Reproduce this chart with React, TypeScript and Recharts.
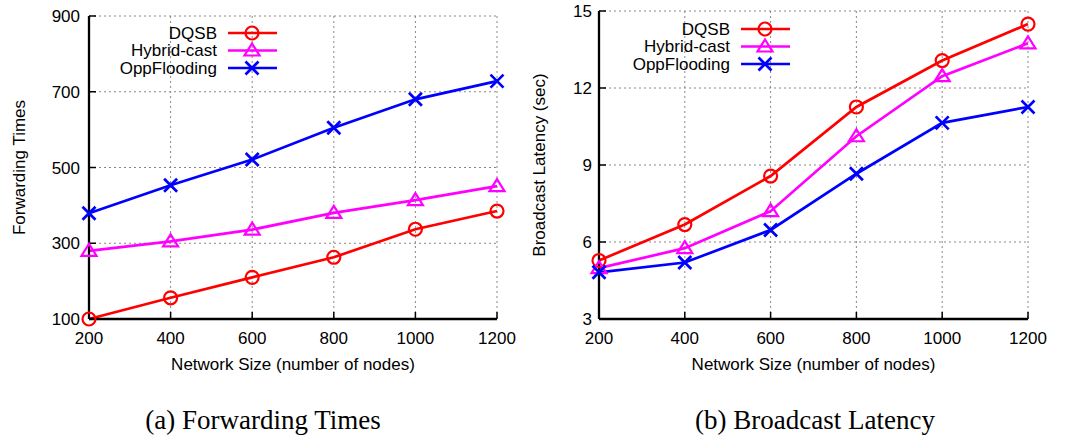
import React from "react";
import { LineChart, Line, XAxis, YAxis, CartesianGrid } from "recharts";

// network sizes on the x axis
const nodes = [200, 400, 600, 800, 1000, 1200];
const seriesNames = ["DQSB", "Hybrid-cast", "OppFlooding"];
const seriesColors = ["#ff0000", "#ff00ff", "#0000ff"];

// (a) forwarding times
const fwdDQSB = [100, 156, 210, 263, 337, 385];
const fwdHybrid = [280, 305, 336, 380, 414, 451];
const fwdOpp = [379, 453, 521, 605, 680, 728];

// (b) broadcast latency (sec)
const latDQSB = [5.28, 6.68, 8.57, 11.26, 13.07, 14.49];
const latHybrid = [4.98, 5.76, 7.2, 10.12, 12.46, 13.74];
const latOpp = [4.82, 5.2, 6.47, 8.66, 10.64, 11.26];

const xTicks = [200, 400, 600, 800, 1000, 1200];
const fwdTicks = [100, 300, 500, 700, 900];
const latTicks = [3, 6, 9, 12, 15];

const FONT = "'Liberation Sans', Arial, Helvetica, sans-serif";
const SERIF = "'Liberation Serif', 'Times New Roman', serif";

const fwdData = nodes.map((n, i) => ({ n, s0: fwdDQSB[i], s1: fwdHybrid[i], s2: fwdOpp[i] }));
const latData = nodes.map((n, i) => ({ n, s0: latDQSB[i], s1: latHybrid[i], s2: latOpp[i] }));

function Marker({ kind, cx, cy, color }: { kind: number; cx: number; cy: number; color: string }) {
  if (kind === 0) {
    return <circle cx={cx} cy={cy} r={6.5} fill="none" stroke={color} strokeWidth={2.2} />;
  }
  if (kind === 1) {
    return (
      <path
        d={`M${cx},${cy - 7} L${cx + 7.5},${cy + 5} L${cx - 7.5},${cy + 5} Z`}
        fill="none"
        stroke={color}
        strokeWidth={2.2}
      />
    );
  }
  return (
    <path
      d={`M${cx - 6.5},${cy - 6.5} L${cx + 6.5},${cy + 6.5} M${cx + 6.5},${cy - 6.5} L${cx - 6.5},${cy + 6.5}`}
      stroke={color}
      strokeWidth={2.7}
    />
  );
}

function LegendBox({ textRight, rowTop }: { textRight: number; rowTop: number }) {
  return (
    <svg
      width={400}
      height={100}
      style={{ position: "absolute", left: 0, top: 0, pointerEvents: "none" }}
    >
      {seriesNames.map((name, i) => {
        const y = rowTop + i * 17.5;
        return (
          <g key={name}>
            <text
              x={textRight}
              y={y}
              textAnchor="end"
              dominantBaseline="central"
              fontFamily={FONT}
              fontSize={17}
              fill="#000"
            >
              {name}
            </text>
            <line x1={textRight + 11} x2={textRight + 60} y1={y} y2={y} stroke={seriesColors[i]} strokeWidth={2.7} />
            <Marker kind={i} cx={textRight + 35} cy={y} color={seriesColors[i]} />
          </g>
        );
      })}
    </svg>
  );
}

type PanelProps = {
  data: any[];
  left: number;
  width: number;
  top: number;
  axisW: number;
  right: number;
  yDomain: [number, number];
  yTicks: number[];
  yLabel: string;
  yLabelOffset: number;
  yTickGap: number;
  legendRight: number;
  legendTop: number;
};

function Panel(p: PanelProps) {
  const H = 390;
  const tick = { fill: "#000", fontSize: 17, fontFamily: FONT };
  return (
    <div style={{ position: "absolute", left: p.left, top: 0, width: p.width, height: H }}>
      <LineChart
        width={p.width}
        height={H}
        data={p.data}
        margin={{ top: p.top, right: p.right, left: 0, bottom: 0 }}
      >
        <CartesianGrid xAxisId="b" yAxisId="l" stroke="#888" strokeDasharray="2 3" strokeWidth={1} />
        <XAxis
          xAxisId="b"
          dataKey="n"
          type="number"
          domain={[200, 1200]}
          ticks={xTicks}
          height={71}
          tick={tick}
          tickSize={-7}
          tickMargin={20}
          axisLine={{ stroke: "#000", strokeWidth: 2.3 }}
          tickLine={{ stroke: "#000", strokeWidth: 1.5 }}
          label={{
            value: "Network Size (number of nodes)",
            position: "insideBottom",
            offset: 20,
            fill: "#000",
            fontSize: 17,
            fontFamily: FONT,
          }}
        />
        <XAxis
          xAxisId="t"
          dataKey="n"
          type="number"
          orientation="top"
          domain={[200, 1200]}
          ticks={xTicks}
          height={0}
          tick={false}
          tickSize={-7}
          axisLine={{ stroke: "#000", strokeWidth: 2.3 }}
          tickLine={{ stroke: "#000", strokeWidth: 1.5 }}
        />
        <YAxis
          yAxisId="l"
          type="number"
          domain={p.yDomain}
          ticks={p.yTicks}
          width={p.axisW}
          tick={tick}
          tickSize={-7}
          tickMargin={p.yTickGap + 7}
          axisLine={{ stroke: "#000", strokeWidth: 2.3 }}
          tickLine={{ stroke: "#000", strokeWidth: 1.5 }}
          label={{
            value: p.yLabel,
            angle: -90,
            position: "insideLeft",
            offset: p.yLabelOffset,
            fill: "#000",
            fontSize: 17,
            fontFamily: FONT,
            style: { textAnchor: "middle" },
          }}
        />
        <YAxis
          yAxisId="r"
          type="number"
          orientation="right"
          domain={p.yDomain}
          ticks={p.yTicks}
          width={0}
          tick={false}
          tickSize={-7}
          axisLine={{ stroke: "#000", strokeWidth: 2.3 }}
          tickLine={{ stroke: "#000", strokeWidth: 1.5 }}
        />
        {seriesNames.map((name, i) => (
          <Line
            key={name}
            xAxisId="b"
            yAxisId="l"
            dataKey={`s${i}`}
            name={name}
            stroke={seriesColors[i]}
            strokeWidth={2.7}
            isAnimationActive={false}
            dot={(d: any) => (
              <Marker key={`${name}-${d.index}`} kind={i} cx={d.cx} cy={d.cy} color={seriesColors[i]} />
            )}
            activeDot={false}
          />
        ))}
      </LineChart>
      <LegendBox textRight={p.legendRight} rowTop={p.legendTop} />
    </div>
  );
}

export default function App() {
  return (
    <div
      style={{
        position: "absolute",
        left: 0,
        top: 0,
        width: 1071,
        height: 438,
        background: "#fff",
        overflow: "hidden",
      }}
    >
      <Panel
        data={fwdData}
        left={0}
        width={530}
        top={16}
        axisW={89}
        right={33}
        yDomain={[100, 900]}
        yTicks={fwdTicks}
        yLabel="Forwarding Times"
        yLabelOffset={19}
        yTickGap={9}
        legendRight={217}
        legendTop={33}
      />
      <Panel
        data={latData}
        left={530}
        width={541}
        top={11}
        axisW={69}
        right={43}
        yDomain={[3, 15]}
        yTicks={latTicks}
        yLabel="Broadcast Latency (sec)"
        yLabelOffset={9}
        yTickGap={7}
        legendRight={200}
        legendTop={29}
      />
      <svg width={1071} height={438} style={{ position: "absolute", left: 0, top: 0, pointerEvents: "none" }}>
        <text x={263} y={429} textAnchor="middle" fontFamily={SERIF} fontSize={27} fill="#000">
          (a) Forwarding Times
        </text>
        <text x={815} y={429} textAnchor="middle" fontFamily={SERIF} fontSize={27} fill="#000">
          (b) Broadcast Latency
        </text>
      </svg>
    </div>
  );
}
